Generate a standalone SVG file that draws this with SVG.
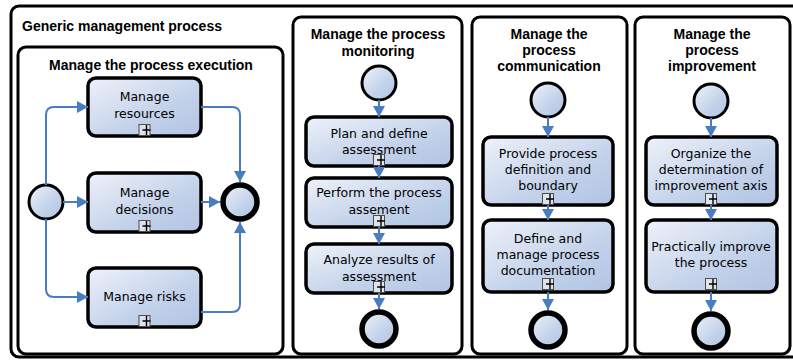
<svg xmlns="http://www.w3.org/2000/svg" width="793" height="360" viewBox="0 0 793 360">
<style>
.frame{fill:#fff;stroke:#000;stroke-width:3}
.task{fill:url(#g);stroke:#000;stroke-width:3.5}
.start{fill:url(#g);stroke:#000;stroke-width:3}
.end{fill:url(#g);stroke:#000;stroke-width:5.5}
.title{font-family:"Liberation Sans",Arial,sans-serif;font-weight:bold;font-size:14px;fill:#000}
.lbl{font-family:"DejaVu Sans",Verdana,sans-serif;font-size:12.5px;fill:#000;text-anchor:middle}
.flow{fill:none;stroke:#4a7cc4;stroke-width:2;marker-end:url(#ah)}
.sub{fill:#dfe4ea;stroke:#4d4d4d;stroke-width:1}
.plus{stroke:#000;stroke-width:1.4}
</style>
<defs>
<linearGradient id="g" x1="0" y1="0" x2="1" y2="1">
<stop offset="0" stop-color="#eef2fa"/>
<stop offset="0.6" stop-color="#c3d2ea"/>
<stop offset="1" stop-color="#b0c4e2"/>
</linearGradient>
<marker id="ah" markerUnits="userSpaceOnUse" markerWidth="12" markerHeight="12" refX="11" refY="6" orient="auto">
<path d="M0,0 L11,6 L0,12 z" fill="#4a7cc4"/>
</marker>
<g id="subm">
<rect class="sub" x="-5.5" y="-5.5" width="11" height="11"/>
<path class="plus" d="M2,-5 V5 M-2,0 H6"/>
</g>
</defs>

<g id="outer">
<rect class="frame" x="11" y="6" width="800" height="351" rx="8"/>
<text class="title" x="22" y="31">Generic management process</text>
</g>

<!-- Panel 1 -->
<g id="panel-execution">
<rect class="frame" x="18" y="47" width="265" height="307" rx="8"/>
<text class="title" x="151" y="70" text-anchor="middle">Manage the process execution</text>
</g>
<g id="exec-start"><circle class="start" cx="46" cy="202" r="17"/></g>
<g id="exec-resources">
<rect class="task" x="88" y="78" width="113" height="58" rx="8"/>
<text class="lbl" x="144.5" y="101">Manage</text>
<text class="lbl" x="144.5" y="118">resources</text>
<use href="#subm" x="144.5" y="130"/>
</g>
<g id="exec-decisions">
<rect class="task" x="88" y="173" width="113" height="59" rx="8"/>
<text class="lbl" x="144.5" y="197">Manage</text>
<text class="lbl" x="144.5" y="214">decisions</text>
<use href="#subm" x="144.5" y="226"/>
</g>
<g id="exec-risks">
<rect class="task" x="88" y="268" width="113" height="59" rx="8"/>
<text class="lbl" x="144.5" y="301">Manage risks</text>
<use href="#subm" x="144.5" y="321"/>
</g>
<g id="exec-end"><circle class="end" cx="240" cy="202" r="17"/></g>

<!-- Panel 2 -->
<g id="panel-monitoring">
<rect class="frame" x="293" y="17" width="169" height="337" rx="8"/>
<text class="title" x="378" y="39" text-anchor="middle">Manage the process</text>
<text class="title" x="378" y="56" text-anchor="middle">monitoring</text>
</g>
<g id="mon-start"><circle class="start" cx="379" cy="83" r="17"/></g>
<g id="mon-plan">
<rect class="task" x="306" y="117" width="146" height="49" rx="8"/>
<text class="lbl" x="379" y="138">Plan and define</text>
<text class="lbl" x="379" y="154">assessment</text>
<use href="#subm" x="379" y="160"/>
</g>
<g id="mon-perform">
<rect class="task" x="306" y="178" width="146" height="49" rx="8"/>
<text class="lbl" x="379" y="197">Perform the process</text>
<text class="lbl" x="379" y="214">assement</text>
<use href="#subm" x="379" y="221"/>
</g>
<g id="mon-analyze">
<rect class="task" x="306" y="244" width="146" height="49" rx="8"/>
<text class="lbl" x="379" y="264">Analyze results of</text>
<text class="lbl" x="379" y="281">assessment</text>
<use href="#subm" x="379" y="287"/>
</g>
<g id="mon-end"><circle class="end" cx="379" cy="329" r="17"/></g>

<!-- Panel 3 -->
<g id="panel-communication">
<rect class="frame" x="472" y="17" width="155" height="337" rx="8"/>
<text class="title" x="549" y="39" text-anchor="middle">Manage the</text>
<text class="title" x="549" y="55" text-anchor="middle">process</text>
<text class="title" x="549" y="71" text-anchor="middle">communication</text>
</g>
<g id="com-start"><circle class="start" cx="548" cy="100" r="17"/></g>
<g id="com-provide">
<rect class="task" x="483" y="137" width="130" height="68" rx="8"/>
<text class="lbl" x="548" y="158">Provide process</text>
<text class="lbl" x="548" y="174">definition and</text>
<text class="lbl" x="548" y="190">boundary</text>
<use href="#subm" x="548" y="199"/>
</g>
<g id="com-define">
<rect class="task" x="483" y="220" width="130" height="72" rx="8"/>
<text class="lbl" x="548" y="243">Define and</text>
<text class="lbl" x="548" y="259">manage process</text>
<text class="lbl" x="548" y="275">documentation</text>
<use href="#subm" x="548" y="284"/>
</g>
<g id="com-end"><circle class="end" cx="548" cy="330" r="17"/></g>

<!-- Panel 4 -->
<g id="panel-improvement">
<rect class="frame" x="635" y="17" width="155" height="337" rx="8"/>
<text class="title" x="712" y="39" text-anchor="middle">Manage the</text>
<text class="title" x="712" y="55" text-anchor="middle">process</text>
<text class="title" x="712" y="71" text-anchor="middle">improvement</text>
</g>
<g id="imp-start"><circle class="start" cx="711" cy="101" r="17"/></g>
<g id="imp-organize">
<rect class="task" x="646" y="137" width="131" height="68" rx="8"/>
<text class="lbl" x="711" y="158">Organize the</text>
<text class="lbl" x="711" y="174">determination of</text>
<text class="lbl" x="711" y="190">improvement axis</text>
<use href="#subm" x="711" y="199"/>
</g>
<g id="imp-practically">
<rect class="task" x="646" y="220" width="131" height="72" rx="8"/>
<text class="lbl" x="711" y="251">Practically improve</text>
<text class="lbl" x="711" y="267">the process</text>
<use href="#subm" x="711" y="284"/>
</g>
<g id="imp-end"><circle class="end" cx="711" cy="331" r="17"/></g>

<g id="connectors">
<path class="flow" d="M46,185 V115 Q46,107 54,107 H88"/>
<path class="flow" d="M63,202 H88"/>
<path class="flow" d="M46,219 V289 Q46,297 54,297 H88"/>
<path class="flow" d="M201,107 H232 Q240,107 240,115 V182"/>
<path class="flow" d="M201,202 H220"/>
<path class="flow" d="M201,312 H232 Q240,312 240,304 V222"/>
<path class="flow" d="M379,100 V117"/>
<path class="flow" d="M379,166 V178"/>
<path class="flow" d="M379,227 V244"/>
<path class="flow" d="M379,293 V309"/>
<path class="flow" d="M548,117 V137"/>
<path class="flow" d="M548,205 V220"/>
<path class="flow" d="M548,292 V310"/>
<path class="flow" d="M711,118 V137"/>
<path class="flow" d="M711,205 V220"/>
<path class="flow" d="M711,292 V311"/>
</g>
</svg>
